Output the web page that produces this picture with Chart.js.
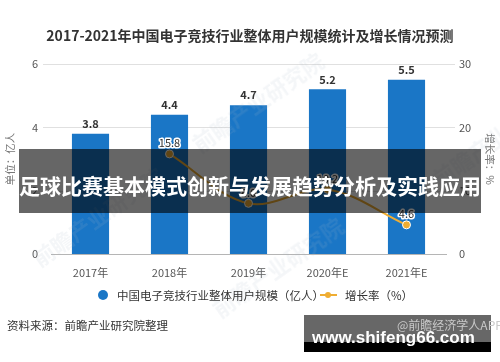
<!DOCTYPE html>
<html><head><meta charset="utf-8">
<script src="https://cdn.jsdelivr.net/npm/chart.js@4.4.1/dist/chart.umd.min.js"></script>
<style>
html,body{margin:0;padding:0;background:#fff;}
#wrap{position:relative;width:500px;height:362px;overflow:hidden;font-family:"Noto Sans CJK SC","Noto Sans",sans-serif;}
canvas{position:absolute;left:0;top:0;}
.abs{position:absolute;white-space:nowrap;}
.wm{position:absolute;white-space:nowrap;color:rgba(170,185,200,0.13);font-weight:bold;font-size:22px;transform:rotate(-35deg);pointer-events:none;}
</style></head>
<body><div id="wrap">
<canvas id="c" width="500" height="362"></canvas>
<div class="abs" style="left:0;width:500px;top:26px;text-align:center;font-weight:bold;font-size:14px;line-height:18px;color:#333;">2017-2021年中国电子竞技行业整体用户规模统计及增长情况预测</div>

<div class="wm" style="left:180px;top:85px;">前瞻产业研究院</div>
<div class="wm" style="left:20px;top:200px;">前瞻产业研究院</div>
<div class="wm" style="left:420px;top:120px;">前瞻产业研究院</div>
<div class="wm" style="left:200px;top:250px;">前瞻产业研究院</div>

<div class="abs" style="left:98px;top:290px;width:10px;height:10px;border-radius:50%;background:#1a76c6;"></div>
<div class="abs" style="left:117px;top:287px;font-size:11.5px;line-height:16px;color:#333;">中国电子竞技行业整体用户规模（亿人）</div>
<div class="abs" style="left:320px;top:294px;width:17px;height:2px;background:#efad32;"></div>
<div class="abs" style="left:325px;top:292px;width:6px;height:6px;border-radius:50%;background:#efad32;"></div>
<div class="abs" style="left:345px;top:287px;font-size:11.5px;line-height:16px;color:#333;">增长率（%）</div>

<div class="abs" style="left:7px;top:317px;font-size:11.5px;line-height:16px;color:#333;">资料来源：前瞻产业研究院整理</div>

<div class="abs" style="left:19px;top:149px;width:462px;height:64px;background:rgba(0,0,0,0.6);"></div>
<div class="abs" style="left:19px;top:171px;width:462px;text-align:center;font-weight:bold;font-size:21px;line-height:28px;color:#fff;">足球比赛基本模式创新与发展趋势分析及实践应用</div>

<div class="abs" style="left:304px;top:315px;width:187px;height:27px;background:#676767;"></div>
<div class="abs" style="left:304px;top:342px;width:187px;height:10px;background:#000;"></div>
<div class="abs" style="left:397px;top:317px;font-size:12px;line-height:16px;color:#c8c8c8;">@前瞻经济学人APP</div>
<div class="abs" style="left:312px;top:327px;font-family:'Liberation Sans',Arial,sans-serif;font-weight:bold;font-size:17px;line-height:22px;color:#fff;">www.shifeng66.com</div>
</div>
<script>
const categories = ['2017年', '2018年', '2019年', '2020年E', '2021年E'];
const userScale = [3.8, 4.4, 4.7, 5.2, 5.5];
const growthRate = [null, 15.8, 8.0, 10.2, 4.6];
const leftTicks = [0, 2, 4, 6];
const rightTicks = [0, 10, 20, 30];

const FONT = '"Noto Sans CJK SC", "Noto Sans", sans-serif';
const BAR = '#1a76c6';
const LINE = '#efad32';

const gridPlugin = {
  id: 'gridExt',
  beforeDatasetsDraw(chart) {
    const ctx = chart.ctx, y = chart.scales.y, a = chart.chartArea;
    ctx.save();
    ctx.strokeStyle = '#e0e0e0';
    ctx.lineWidth = 1;
    leftTicks.forEach(v => {
      if (v === 0) return;
      const py = Math.round(y.getPixelForValue(v)) + 0.5;
      ctx.beginPath();
      ctx.moveTo(a.left - 8, py);
      ctx.lineTo(a.right + 9, py);
      ctx.stroke();
    });
    ctx.restore();
  }
};

const labelPlugin = {
  id: 'valLabels',
  afterDatasetsDraw(chart) {
    const ctx = chart.ctx;
    ctx.save();
    ctx.textAlign = 'center';
    ctx.textBaseline = 'middle';
    ctx.font = 'bold 11px ' + FONT;
    ctx.fillStyle = '#333';
    chart.getDatasetMeta(0).data.forEach((el, i) => {
      ctx.fillText(userScale[i].toFixed(1), el.x, el.y - 10);
    });
    ctx.font = '11px ' + FONT;
    ctx.lineWidth = 3;
    ctx.strokeStyle = '#fff';
    ctx.lineJoin = 'round';
    chart.getDatasetMeta(1).data.forEach((el, i) => {
      if (growthRate[i] == null) return;
      const t = growthRate[i].toFixed(1);
      ctx.strokeText(t, el.x, el.y - 11);
      ctx.fillText(t, el.x, el.y - 11);
    });
    ctx.restore();
  }
};

new Chart(document.getElementById('c'), {
  data: {
    labels: categories,
    datasets: [
      {
        type: 'bar', label: '中国电子竞技行业整体用户规模（亿人）', data: userScale,
        backgroundColor: BAR, yAxisID: 'y', order: 1,
        categoryPercentage: 1, barPercentage: 0.47
      },
      {
        type: 'line', label: '增长率（%）', data: growthRate, yAxisID: 'y1', order: 0,
        borderColor: LINE, borderWidth: 2, tension: 0.35,
        pointRadius: 4, pointBackgroundColor: LINE, pointBorderColor: '#fff', pointBorderWidth: 1
      }
    ]
  },
  options: {
    responsive: false, animation: false,
    layout: { padding: { top: 64, bottom: 78, left: 0, right: 0 } },
    plugins: { legend: { display: false }, title: { display: false }, tooltip: { enabled: false } },
    scales: {
      x: {
        offset: true,
        grid: { display: false, drawTicks: false },
        border: { display: true, color: '#b5b5b5' },
        ticks: { color: '#555', font: { size: 11, family: FONT }, padding: 12 },
        afterFit: s => { s.height = 30; }
      },
      y: {
        position: 'left', min: 0, max: 6,
        grid: { display: false, drawTicks: false },
        border: { display: false },
        ticks: { color: '#555', font: { size: 11, family: FONT }, padding: 13 },
        afterBuildTicks: s => { s.ticks = leftTicks.map(v => ({ value: v })); },
        title: { display: true, text: '单位：亿人', color: '#777', font: { size: 10.5, family: FONT }, padding: { top: 4, bottom: 0 } },
        afterFit: s => { s.width = 51; }
      },
      y1: {
        position: 'right', min: 0, max: 30,
        grid: { display: false, drawTicks: false },
        border: { display: false },
        ticks: { color: '#555', font: { size: 11, family: FONT }, padding: 13 },
        afterBuildTicks: s => { s.ticks = rightTicks.map(v => ({ value: v })); },
        title: { display: true, text: '增长率：%', color: '#777', font: { size: 10.5, family: FONT }, padding: { top: 4, bottom: 0 } },
        afterFit: s => { s.width = 54; }
      }
    }
  },
  plugins: [gridPlugin, labelPlugin]
});
</script>
</body></html>
